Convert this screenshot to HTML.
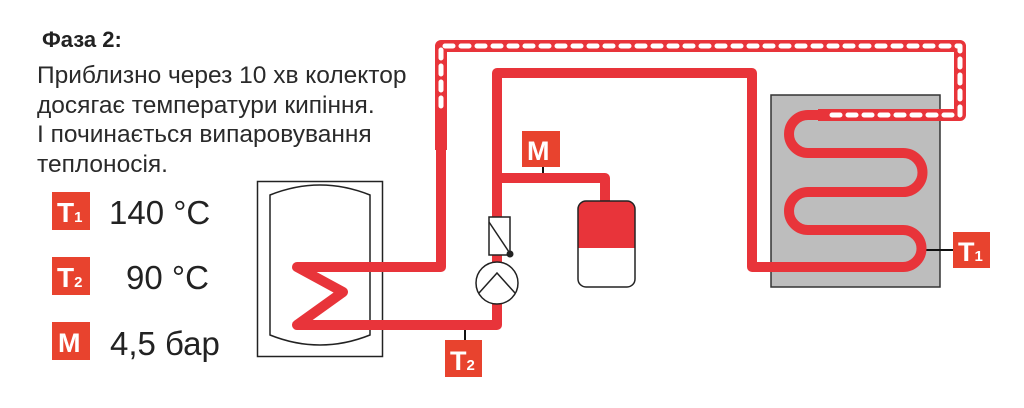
<!DOCTYPE html>
<html><head><meta charset="utf-8"><style>
html,body{margin:0;padding:0;background:#fff;}
body{width:1024px;height:408px;position:relative;overflow:hidden;font-family:"Liberation Sans",Arial,sans-serif;color:#222;}
</style></head><body>
<svg width="1024" height="408" style="position:absolute;left:0;top:0">
<text x="42" y="47" font-size="22" font-weight="bold" fill="#222" font-family="Liberation Sans">Фаза 2:</text>
<g font-size="24.5" fill="#2a2a2a" font-family="Liberation Sans">
<text x="37" y="83">Приблизно через 10 хв колектор</text>
<text x="37" y="113">досягає температури кипіння.</text>
<text x="37" y="142">І починається випаровування</text>
<text x="37" y="172">теплоносія.</text>
</g>
<g fill="#e8432e">
<rect x="52" y="192" width="38" height="38"/>
<rect x="52" y="257" width="38" height="38"/>
<rect x="52" y="322" width="38" height="38"/>
</g>
<g fill="#fff" font-weight="bold" font-family="Liberation Sans">
<text x="57" y="222" font-size="28">T<tspan font-size="15">1</tspan></text>
<text x="57" y="287" font-size="28">T<tspan font-size="15">2</tspan></text>
<text x="58" y="352" font-size="27">M</text>
</g>
<g font-size="33" fill="#222" font-family="Liberation Sans">
<text x="109" y="224">140 °C</text>
<text x="126" y="289">90 °C</text>
<text x="110" y="355">4,5 бар</text>
</g>
<rect x="257.5" y="181.5" width="125" height="175" fill="none" stroke="#222" stroke-width="1.5"/>
<path d="M270,195 Q320,175 370,195 L370,335 Q320,355 270,335 Z" fill="none" stroke="#222" stroke-width="1.5"/>
<rect x="771" y="95" width="169" height="192" fill="#bdbdbd" stroke="#333" stroke-width="1.5"/>
<line x1="922" y1="250" x2="955" y2="250" stroke="#111" stroke-width="2"/>
<line x1="465" y1="325" x2="465" y2="342" stroke="#111" stroke-width="2"/>
<line x1="543" y1="166" x2="543" y2="180" stroke="#111" stroke-width="2"/>
<g fill="none" stroke="#e8343a" stroke-width="10" stroke-linejoin="round" stroke-linecap="round">
<path d="M441,120 L441,267 L297,267 L343,292 L297,325 L497,325 L497,73 L752,73 L752,267 L903,267 A18.5,18.5 0 0 0 903,230 L808,230 A19,19 0 0 1 808,192 L903,192 A19.5,19.5 0 0 0 903,153 L808,153 A19,19 0 0 1 808,115 L818,115"/>
<path d="M497,178 L605,178 L605,202"/>
</g>
<path d="M441,150 L441,46 L960,46 L960,115 L818,115" fill="none" stroke="#e8343a" stroke-width="12" stroke-linejoin="round"/>
<path d="M441,106 L441,46 L960,46 L960,115 L824,115" fill="none" stroke="#fff" stroke-width="5" stroke-dasharray="8,8" stroke-linecap="round" stroke-linejoin="round"/>
<rect x="578" y="201" width="57" height="86" rx="8" fill="#fff"/>
<path d="M578,248 L578,209 Q578,201 586,201 L627,201 Q635,201 635,209 L635,248 Z" fill="#e8343a"/>
<rect x="578" y="201" width="57" height="86" rx="8" fill="none" stroke="#222" stroke-width="1.5"/>
<rect x="489" y="217" width="21" height="38" fill="#fff" stroke="#222" stroke-width="1.5"/>
<line x1="489" y1="222" x2="509" y2="252" stroke="#222" stroke-width="1.5"/>
<circle cx="510" cy="254" r="3.5" fill="#222"/>
<circle cx="497" cy="283" r="21" fill="#fff" stroke="#222" stroke-width="1.5"/>
<path d="M479,293 L497,273 L515,293" fill="none" stroke="#222" stroke-width="1.5"/>
<g fill="#e8432e">
<rect x="522" y="131" width="38" height="36"/>
<rect x="445" y="340" width="37" height="37"/>
<rect x="953" y="232" width="37" height="36"/>
</g>
<g fill="#fff" font-weight="bold" font-family="Liberation Sans" font-size="27">
<text x="527" y="160">M</text>
<text x="450" y="370">T<tspan font-size="15">2</tspan></text>
<text x="958" y="261">T<tspan font-size="15">1</tspan></text>
</g>
</svg>
</body></html>
